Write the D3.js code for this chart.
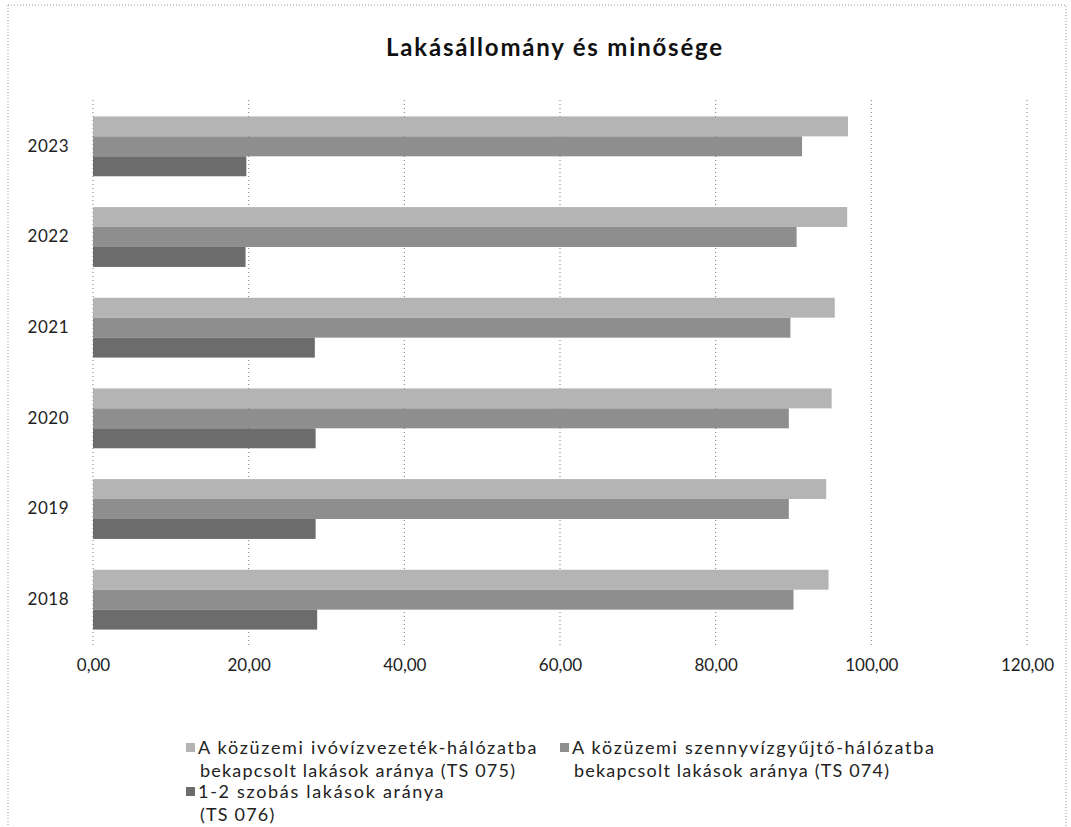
<!DOCTYPE html>
<html>
<head>
<meta charset="utf-8">
<script src="https://cdn.jsdelivr.net/npm/d3@7"></script>
<style>
  body { margin: 0; background: #fff; }
  svg { display: block; }
</style>
</head>
<body>
<div id="chart"></div>
<script>
var years = ["2023", "2022", "2021", "2020", "2019", "2018"];
var seriesNames = [
  ["A közüzemi ivóvízvezeték-hálózatba", "bekapcsolt lakások aránya (TS 075)"],
  ["A közüzemi szennyvízgyűjtő-hálózatba", "bekapcsolt lakások aránya (TS 074)"],
  ["1-2 szobás lakások aránya", "(TS 076)"]
];
var ivoviz = [97.0, 96.9, 95.3, 94.9, 94.2, 94.5];
var szennyviz = [91.1, 90.4, 89.6, 89.4, 89.4, 90.0];
var szobas = [19.7, 19.6, 28.5, 28.6, 28.6, 28.8];
var xTicks = [0, 20, 40, 60, 80, 100, 120];
var colors = ["#b4b4b4", "#8e8e8e", "#6c6c6c"];

var width = 1071;
var height = 827;
var font = "Lato, 'Open Sans', sans-serif";

var svg = d3.select("#chart").append("svg")
  .attr("width", width)
  .attr("height", height);

// scan border
svg.append("rect")
  .attr("x", 8).attr("y", 5)
  .attr("width", 1058).attr("height", 840)
  .attr("fill", "none")
  .attr("stroke", "#999")
  .attr("stroke-dasharray", "1,2");

svg.append("text")
  .attr("x", 555).attr("y", 56)
  .attr("text-anchor", "middle")
  .attr("font-family", font)
  .attr("font-weight", "bold")
  .attr("font-size", 24)
  .attr("letter-spacing", 1.8)
  .attr("fill", "#111")
  .text("Lakásállomány és minősége");

var x = d3.scaleLinear().domain([0, 120]).range([93, 1027]);
var y = d3.scaleBand().domain(years).range([101, 645]).paddingInner(0.34).paddingOuter(0.17);
var series = [ivoviz, szennyviz, szobas];
var ySub = d3.scaleBand().domain([0, 1, 2]).range([0, y.bandwidth()]);

// gridlines
svg.append("g").selectAll("line")
  .data(xTicks)
  .join("line")
  .attr("x1", function(d) { return x(d); })
  .attr("x2", function(d) { return x(d); })
  .attr("y1", 100).attr("y2", 645)
  .attr("stroke", "#777")
  .attr("stroke-width", 1)
  .attr("stroke-dasharray", "1,3");

// bars
for (var s = 0; s < series.length; s++) {
  svg.append("g").selectAll("rect")
    .data(series[s])
    .join("rect")
    .attr("x", x(0))
    .attr("y", function(d, i) { return y(years[i]) + ySub(s); })
    .attr("width", function(d) { return x(d) - x(0); })
    .attr("height", ySub.bandwidth())
    .attr("fill", colors[s]);
}

// x axis labels
var xAxis = d3.axisBottom(x).tickValues(xTicks).tickSize(0)
  .tickFormat(function(d) { return d3.format(".2f")(d).replace(".", ","); });
var gx = svg.append("g").attr("transform", "translate(0,656)").call(xAxis);
gx.select(".domain").remove();
gx.selectAll("text")
  .attr("font-family", font)
  .attr("font-size", 17)
  .attr("fill", "#222");

// y axis labels
var yAxis = d3.axisLeft(y).tickSize(0).tickPadding(0);
var gy = svg.append("g").attr("transform", "translate(69,0)").call(yAxis);
gy.select(".domain").remove();
gy.selectAll("text")
  .attr("font-family", font)
  .attr("font-size", 17)
  .attr("letter-spacing", 0.5)
  .attr("fill", "#222");

// legend
var legendPos = [[186, 748], [560, 748], [186, 792]];
for (var k = 0; k < seriesNames.length; k++) {
  var lg = svg.append("g").attr("transform", "translate(" + legendPos[k][0] + "," + legendPos[k][1] + ")");
  lg.append("rect")
    .attr("x", 0).attr("y", -5)
    .attr("width", 9).attr("height", 9)
    .attr("fill", colors[k]);
  lg.append("text")
    .attr("x", 12).attr("y", 6)
    .attr("font-family", font)
    .attr("font-size", 18)
    .attr("letter-spacing", 1.7)
    .attr("fill", "#222")
    .text(seriesNames[k][0]);
  lg.append("text")
    .attr("x", 14).attr("y", 29)
    .attr("font-family", font)
    .attr("font-size", 18)
    .attr("letter-spacing", 1.2)
    .attr("fill", "#222")
    .text(seriesNames[k][1]);
}
</script>
</body>
</html>
